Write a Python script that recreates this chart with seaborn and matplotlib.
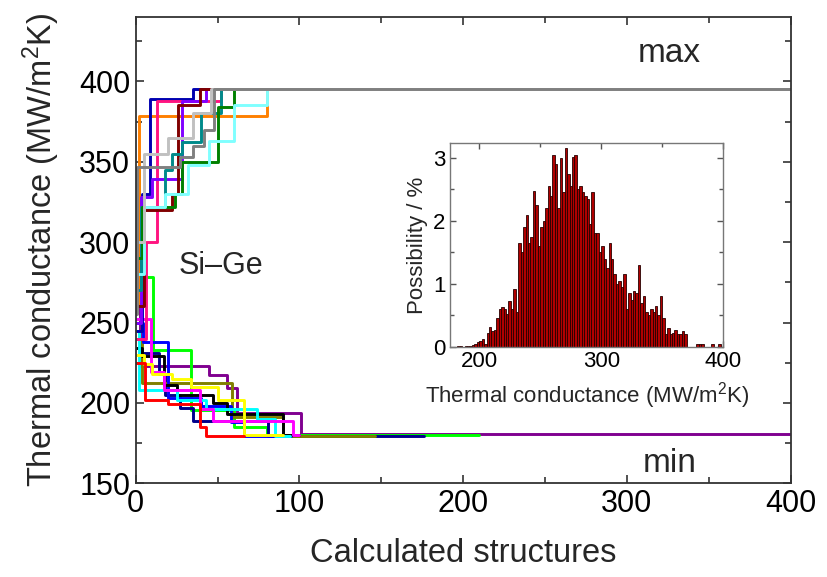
import pandas as pd
import matplotlib
matplotlib.use("Agg")
import matplotlib.pyplot as plt
from matplotlib.ticker import MultipleLocator
import seaborn as sns

# ---- maximisation runs (change points of the best value found so far)
orange_max_x = [0, 2, 80, 400]
orange_max_y = [262, 378.5, 395.5, 395.5]
navy_max_x = [0, 4, 8.7, 35, 400]
navy_max_y = [245, 330, 389, 395.5, 395.5]
pink_max_x = [0, 6, 12.8, 52, 400]
pink_max_y = [240, 300, 388, 395.5, 395.5]
violet_max_x = [0, 3, 10, 28, 43, 400]
violet_max_y = [250, 328, 339, 388, 395.5, 395.5]
darkred_max_x = [0, 5, 22, 26, 39, 400]
darkred_max_y = [260, 320, 330, 385, 395.5, 395.5]
teal_max_x = [0, 3, 18, 22, 28, 40, 52, 400]
teal_max_y = [270, 322, 345, 355, 362, 380, 395.5, 395.5]
green_max_x = [0, 4, 24, 28, 50, 60, 400]
green_max_y = [290, 322, 330, 350, 384, 395.5, 395.5]
cyan_max_x = [0, 5, 18, 32, 45, 60, 80, 400]
cyan_max_y = [280, 322, 330, 348, 363, 385, 395.5, 395.5]
silver_max_x = [0, 5, 20, 35, 46, 400]
silver_max_y = [300, 355, 365, 380, 395.5, 395.5]
gray_max_x = [0, 0.6, 27, 35, 42, 48, 400]
gray_max_y = [255, 347, 353, 360, 370, 395.5, 395.5]

# ---- minimisation runs
purple_min_x = [0, 2.6, 45, 56, 62, 101, 400]
purple_min_y = [262, 222.7, 217.5, 209, 193.5, 180.8, 180.8]
lime_min_x = [0, 2, 4.6, 10.6, 34, 60, 80, 210]
lime_min_y = [345, 300, 278, 233, 195.5, 185, 180.0, 180.0]
navy_min_x = [0, 3, 14, 18, 27, 35, 81, 176]
navy_min_y = [240, 231, 218, 205, 197, 189, 179.3, 179.3]
olive_min_x = [0, 4, 59, 90, 146]
olive_min_y = [240, 212.5, 191, 179.3, 179.3]
blue_min_x = [0, 4.7, 20, 40, 58, 66, 95]
blue_min_y = [250, 238, 203, 198, 188, 179.5, 179.5]
black_min_x = [0, 4, 17, 25, 47, 56, 90, 100]
black_min_y = [234, 229, 211, 205, 200, 193, 180, 180]
cyan_min_x = [0, 2, 25, 43, 74, 85, 94]
cyan_min_y = [245, 208, 202, 196, 190, 179.5, 179.5]
magenta_min_x = [0, 9.5, 17, 39, 47, 96, 100]
magenta_min_y = [252, 219, 208, 196, 188.6, 180.2, 180.2]
yellow_min_x = [0, 5, 10, 22, 34, 50, 66, 90]
yellow_min_y = [230, 224, 218, 215, 210, 202, 180, 180]
red_min_x = [0, 5.5, 20, 39, 43, 66]
red_min_y = [225, 202, 199.5, 185, 179.5, 179.5]

# ---- inset histogram: % per 2 MW/m2K bin, bins from 180 to 400
hist_bin_start = 180
hist_bin_width = 2
hist_pct = [
    0, 0.01, 0.01, 0, 0.01, 0.01, 0.02, 0.03, 0.05, 0.07, 0.09, 0.12, 0.04,
    0.22, 0.32, 0.25, 0.27, 0.45, 0.6, 0.63, 0.6, 0.52, 0.72, 0.6, 0.92, 0.55,
    1.65, 1.5, 1.9, 2.1, 1.65, 1.75, 2.47, 2.25, 1.6, 1.9, 2.0, 2.2, 2.55, 2.4,
    3.05, 2.9, 2.2, 3.0, 2.45, 3.15, 2.75, 2.55, 3.02, 3.05, 2.5, 2.55, 2.45,
    2.4, 2.35, 1.95, 2.45, 1.8, 1.8, 1.5, 1.6, 1.4, 1.25, 1.65, 1.4, 1.15, 1.0,
    1.05, 0.95, 1.15, 0.6, 0.85, 0.75, 0.88, 0.85, 1.3, 0.7, 0.8, 0.55, 0.5,
    0.6, 0.55, 0.65, 0.5, 0.8, 0.45, 0.2, 0.3, 0.2, 0.22, 0.27, 0.2, 0.2, 0.25,
    0.2,
    0, 0, 0, 0, 0.05, 0.05, 0.05, 0, 0, 0, 0.05, 0, 0, 0.04, 0,
]
hist_df = pd.DataFrame({
    "tc": [hist_bin_start + hist_bin_width * (i + 0.5) for i in range(len(hist_pct))],
    "pct": hist_pct,
})

max_runs = [
    (orange_max_x, orange_max_y, "#ff8000"),
    (navy_max_x, navy_max_y, "#0000b0"),
    (pink_max_x, pink_max_y, "#ff1480"),
    (violet_max_x, violet_max_y, "#8000ff"),
    (darkred_max_x, darkred_max_y, "#800000"),
    (teal_max_x, teal_max_y, "#008b8b"),
    (green_max_x, green_max_y, "#008000"),
    (cyan_max_x, cyan_max_y, "#80ffff"),
    (silver_max_x, silver_max_y, "#c0c0c0"),
    (gray_max_x, gray_max_y, "#808080"),
]
min_runs = [
    (purple_min_x, purple_min_y, "#800090"),
    (lime_min_x, lime_min_y, "#00ff00"),
    (navy_min_x, navy_min_y, "#00008b"),
    (olive_min_x, olive_min_y, "#808000"),
    (blue_min_x, blue_min_y, "#0000ff"),
    (black_min_x, black_min_y, "#000000"),
    (cyan_min_x, cyan_min_y, "#00ffff"),
    (magenta_min_x, magenta_min_y, "#ff00ff"),
    (yellow_min_x, yellow_min_y, "#ffff00"),
    (red_min_x, red_min_y, "#ff0000"),
]

sns.set_theme(style="ticks")
plt.rcParams["font.family"] = ["Liberation Sans", "DejaVu Sans"]
plt.rcParams["mathtext.fontset"] = "custom"
plt.rcParams["mathtext.rm"] = "Liberation Sans"
plt.rcParams["mathtext.default"] = "regular"
plt.rcParams["axes.edgecolor"] = "#333333"
plt.rcParams["axes.linewidth"] = 1.3

fig = plt.figure(figsize=(8.27, 5.77), dpi=100)
ax = fig.add_axes([0.1641, 0.1624, 0.7918, 0.8081])

for xs, ys, col in min_runs + max_runs:
    sns.lineplot(x=xs, y=ys, ax=ax, color=col, linewidth=2.1,
                 drawstyle="steps-post", estimator=None, sort=False)

ax.set_xlim(0, 400)
ax.set_ylim(150, 440)
ax.xaxis.set_major_locator(MultipleLocator(100))
ax.xaxis.set_minor_locator(MultipleLocator(50))
ax.yaxis.set_major_locator(MultipleLocator(50))
ax.yaxis.set_minor_locator(MultipleLocator(25))
ax.tick_params(which="both", direction="in", top=True, right=True,
               colors="#333333", labelcolor="black", width=1.2)
ax.tick_params(which="major", length=6, labelsize=22, pad=4)
ax.tick_params(which="minor", length=4)
ax.set_xlabel("Calculated structures", fontsize=23.5, labelpad=14)
ax.set_ylabel("Thermal conductance (MW/m$^2$K)", fontsize=23.5, labelpad=12)

ax.text(326, 412, "max", fontsize=24, ha="center", va="baseline")
ax.text(326, 157, "min", fontsize=24, ha="center", va="baseline")
ax.text(52, 280, "Si–Ge", fontsize=22, ha="center", va="baseline")

# inset: distribution of thermal conductance
ins = fig.add_axes([0.544, 0.399, 0.3306, 0.3526])
sns.histplot(data=hist_df, x="tc", weights="pct", binwidth=hist_bin_width,
             binrange=(hist_bin_start, 400), ax=ins,
             color="#b00000", edgecolor="#250000", linewidth=0.6, alpha=1)
ins.set_xlim(176, 400)
ins.set_ylim(0, 3.23)
ins.xaxis.set_major_locator(MultipleLocator(100))
ins.xaxis.set_minor_locator(MultipleLocator(50))
ins.yaxis.set_major_locator(MultipleLocator(1))
ins.yaxis.set_minor_locator(MultipleLocator(0.5))
ins.tick_params(which="both", direction="in", top=True, right=True,
                colors="#555555", labelcolor="black", width=1.0)
ins.tick_params(which="major", length=4, labelsize=16, pad=3)
ins.tick_params(which="minor", length=3)
for s in ins.spines.values():
    s.set_color("#777777")
    s.set_linewidth(1.0)
ins.set_xlabel("Thermal conductance (MW/m$^2$K)", fontsize=16, labelpad=6)
ins.set_ylabel("Possibility / %", fontsize=16, labelpad=4)

fig.savefig("out.png", dpi=100)
